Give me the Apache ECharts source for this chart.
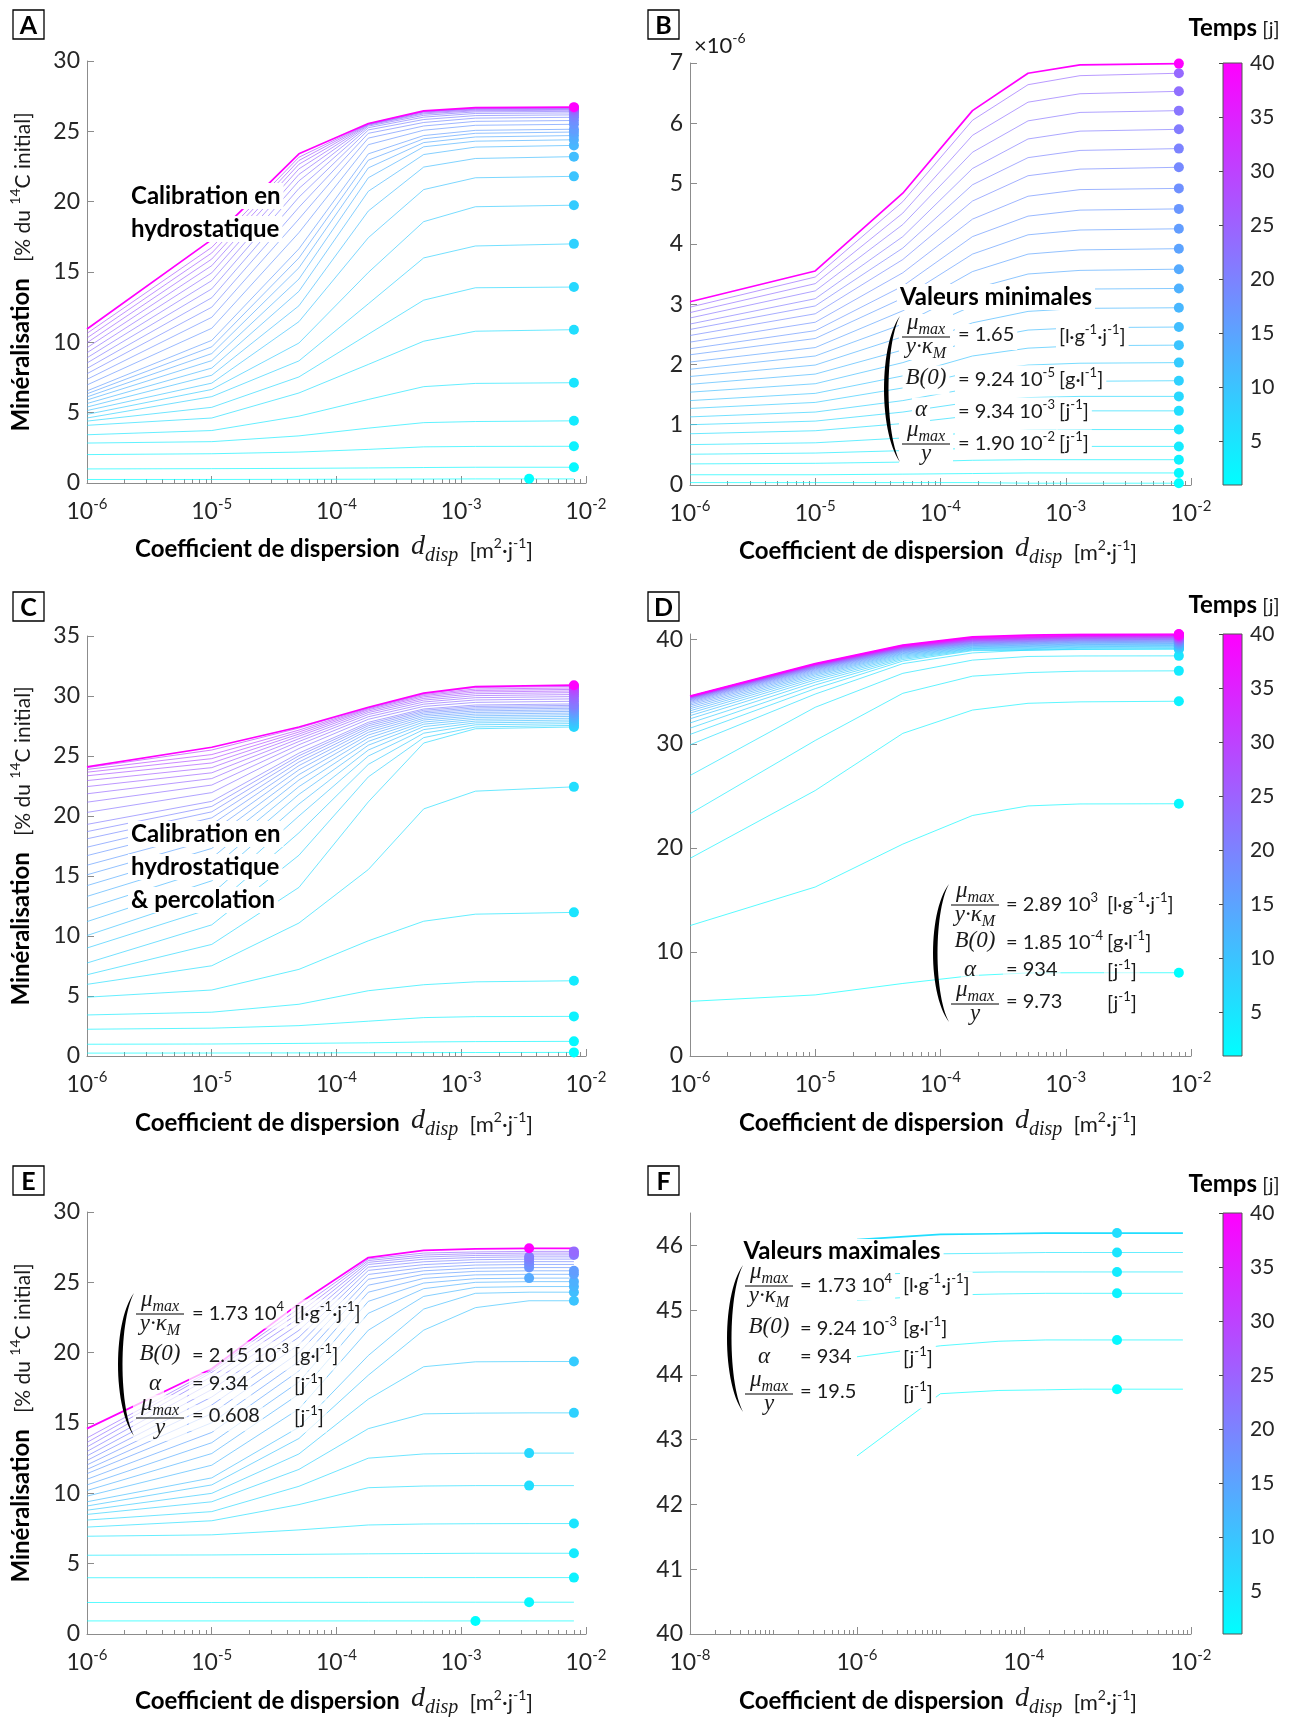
<!DOCTYPE html>
<html><head><meta charset="utf-8">
<script src="https://cdn.jsdelivr.net/npm/echarts@6/dist/echarts.min.js"></script>
<style>html,body{margin:0;padding:0;background:#fff}#c{width:1291px;height:1717px}</style>
</head><body><div id="c"></div>
<script>
// ---------------- DATA ----------------
const dispX  = [1e-6, 1e-5, 5e-5, 1.8e-4, 5e-4, 1.3e-3, 8e-3];
const dispX8 = [1e-6, 1e-5, 5e-5, 1.8e-4, 5e-4, 1.3e-3, 3.5e-3, 8e-3];
const dispTicks  = [1e-6, 1e-5, 1e-4, 1e-3, 1e-2];
const dispTicksF = [1e-8, 1e-6, 1e-4, 1e-2];
const yTicksA = [0, 5, 10, 15, 20, 25, 30];
const yTicksB = [0, 1, 2, 3, 4, 5, 6, 7];
const yTicksC = [0, 5, 10, 15, 20, 25, 30, 35];
const yTicksD = [0, 10, 20, 30, 40];
const yTicksE = [0, 5, 10, 15, 20, 25, 30];
const yTicksF = [40, 41, 42, 43, 44, 45, 46];
const timeRange = [1, 40];
const timeTicks = [5, 10, 15, 20, 25, 30, 35, 40];
const timesA = [1,2,3,4,5,6,7,8,9,10,11,12,13,14,15,16,17,18,19,20,21,22,23,24,25,26,27,40];
const timesB = [1,2,3,4,5,6,7,8,9,10,11,12,13,14,15,16,17,18,19,20,21,22,23,24,40];
const timesC = [1,2,3,4,5,6,7,8,9,10,11,12,13,14,15,16,17,18,19,20,21,22,23,24,25,26,27,28,29,30,40];
const timesD = [1,2,3,4,5,6,7,8,9,10,11,12,13,14,15,16,17,18,19,20,21,22,23,24,25,26,27,28,29,30,31,32,33,34,35,36,37,38,39,40];
const timesE = [1,2,3,4,5,6,7,8,9,10,11,12,13,14,15,16,17,18,19,20,21,22,23,24,40];
const timesF = [1,2,3,4,5,6];

const mineralA = [
[0.25,0.25,0.26,0.27,0.28,0.29,0.29],
[1.0,1.02,1.04,1.07,1.1,1.12,1.12],
[2.02,2.08,2.2,2.39,2.57,2.6,2.61],
[2.84,2.94,3.35,3.9,4.29,4.37,4.42],
[3.43,3.73,4.75,5.94,6.85,7.08,7.13],
[4.1,4.62,6.4,8.43,10.08,10.79,10.9],
[4.4,5.38,7.54,10.58,13.0,13.88,13.93],
[4.62,6.14,8.68,12.74,16.0,16.85,17.0],
[4.88,6.65,9.95,14.97,18.58,19.64,19.75],
[5.15,7.1,11.47,17.44,20.86,21.7,21.8],
[5.4,7.66,12.6,19.34,22.46,23.07,23.2],
[5.65,8.17,13.63,20.74,23.35,23.88,24.0],
[5.9,8.7,14.5,21.7,23.9,24.3,24.4],
[6.12,9.2,15.3,22.4,24.2,24.6,24.7],
[6.34,9.68,16.0,22.95,24.47,24.86,24.95],
[6.55,10.14,16.65,23.4,24.7,25.07,25.15],
[6.97,11.0,17.8,24.05,25.08,25.43,25.5],
[7.37,11.78,18.77,24.52,25.38,25.71,25.77],
[7.77,12.5,19.6,24.86,25.63,25.94,26.0],
[8.15,13.17,20.32,25.1,25.84,26.12,26.17],
[8.53,13.8,20.94,25.26,26.01,26.27,26.31],
[8.9,14.39,21.48,25.37,26.14,26.38,26.42],
[9.26,14.94,21.94,25.44,26.24,26.46,26.5],
[9.62,15.45,22.33,25.48,26.31,26.52,26.56],
[9.97,15.92,22.66,25.51,26.37,26.57,26.61],
[10.31,16.35,22.93,25.53,26.41,26.61,26.65],
[10.64,16.75,23.16,25.54,26.43,26.64,26.67],
[10.95,17.3,23.4,25.56,26.45,26.68,26.72]
];
const dotA1 = [3.5e-3, 0.3];

const mineralB = [
[0.04,0.04,0.04,0.04,0.03,0.03,0.03],
[0.17,0.17,0.18,0.19,0.2,0.2,0.2],
[0.35,0.36,0.38,0.41,0.42,0.42,0.42],
[0.51,0.53,0.57,0.61,0.63,0.64,0.64],
[0.67,0.7,0.78,0.87,0.91,0.92,0.92],
[0.85,0.9,1.02,1.15,1.21,1.23,1.23],
[1.0,1.06,1.21,1.38,1.45,1.47,1.47],
[1.13,1.21,1.4,1.61,1.7,1.72,1.73],
[1.27,1.37,1.61,1.88,1.99,2.02,2.03],
[1.4,1.52,1.81,2.14,2.27,2.31,2.32],
[1.54,1.68,2.03,2.4,2.57,2.61,2.62],
[1.67,1.84,2.24,2.69,2.88,2.93,2.94],
[1.8,1.99,2.46,2.97,3.19,3.25,3.26],
[1.92,2.14,2.67,3.25,3.5,3.56,3.58],
[2.04,2.28,2.89,3.54,3.83,3.9,3.92],
[2.16,2.43,3.1,3.83,4.15,4.23,4.25],
[2.26,2.56,3.3,4.12,4.46,4.56,4.58],
[2.37,2.7,3.52,4.41,4.79,4.9,4.92],
[2.48,2.84,3.74,4.71,5.13,5.24,5.27],
[2.58,2.97,3.93,4.98,5.43,5.55,5.58],
[2.67,3.09,4.12,5.25,5.74,5.87,5.9],
[2.77,3.22,4.32,5.52,6.04,6.18,6.21],
[2.86,3.34,4.51,5.8,6.35,6.49,6.53],
[2.95,3.45,4.7,6.05,6.64,6.79,6.83],
[3.04,3.55,4.84,6.21,6.83,6.97,6.99]
];

const mineralC = [
[0.24,0.25,0.26,0.27,0.28,0.29,0.3],
[0.98,1.0,1.05,1.1,1.17,1.2,1.22],
[2.23,2.32,2.53,2.9,3.2,3.28,3.3],
[3.42,3.65,4.31,5.44,5.94,6.18,6.27],
[4.9,5.5,7.22,9.6,11.23,11.82,11.97],
[5.97,7.52,11.08,15.54,20.59,22.07,22.43],
[6.77,9.3,14.05,21.18,26.08,27.27,27.42],
[7.75,10.93,16.73,23.26,26.53,27.42,27.55],
[9.0,12.3,18.6,24.3,26.9,27.6,27.7],
[10.04,13.5,20.0,25.0,27.2,27.76,27.85],
[11.2,14.6,21.0,25.5,27.45,27.91,28.0],
[12.3,15.6,21.8,25.9,27.65,28.06,28.15],
[13.3,16.5,22.45,26.22,27.83,28.21,28.3],
[14.2,17.3,23.0,26.5,28.0,28.35,28.44],
[15.1,18.05,23.45,26.75,28.15,28.49,28.58],
[15.9,18.7,23.85,26.97,28.3,28.63,28.72],
[16.7,19.3,24.2,27.17,28.44,28.76,28.85],
[17.4,19.85,24.5,27.35,28.57,28.89,28.98],
[18.1,20.35,24.78,27.52,28.69,29.01,29.1],
[18.7,20.8,25.02,27.67,28.81,29.13,29.22],
[19.3,21.22,25.24,27.81,28.92,29.25,29.34],
[20.3,21.95,25.62,28.06,29.13,29.47,29.56],
[21.15,22.58,25.94,28.27,29.32,29.67,29.76],
[21.85,23.12,26.21,28.46,29.5,29.86,29.95],
[22.45,23.6,26.44,28.62,29.66,30.03,30.12],
[22.95,24.03,26.65,28.75,29.8,30.19,30.28],
[23.35,24.42,26.83,28.86,29.93,30.33,30.42],
[23.65,24.78,27.0,28.94,30.04,30.46,30.55],
[23.88,25.12,27.16,29.0,30.13,30.58,30.67],
[24.03,25.5,27.33,29.04,30.21,30.71,30.8],
[24.09,25.73,27.42,29.06,30.24,30.78,30.9]
];

const mineralD = [
[5.25,5.87,6.97,7.73,7.98,8.0,8.0],
[12.53,16.24,20.36,23.11,24.03,24.22,24.24],
[18.99,25.51,31.0,33.24,33.89,34.03,34.09],
[23.28,30.32,34.85,36.5,36.84,36.98,37.01],
[26.95,33.51,36.77,38.04,38.39,38.44,38.45],
[29.9,34.78,37.7,38.73,39.0,39.06,39.08],
[30.9,35.3,37.95,38.95,38.98,39.1,39.15],
[31.5,35.65,38.1,39.02,39.06,39.18,39.23],
[32.0,35.92,38.22,39.09,39.14,39.26,39.31],
[32.4,36.14,38.33,39.15,39.21,39.33,39.38],
[32.7,36.32,38.43,39.21,39.28,39.4,39.45],
[32.95,36.48,38.52,39.27,39.35,39.47,39.52],
[33.17,36.62,38.6,39.33,39.41,39.53,39.58],
[33.37,36.74,38.67,39.39,39.47,39.59,39.64],
[33.55,36.85,38.74,39.44,39.53,39.65,39.7],
[33.71,36.95,38.8,39.49,39.59,39.71,39.76],
[33.85,37.04,38.86,39.54,39.64,39.76,39.81],
[33.97,37.12,38.91,39.59,39.69,39.81,39.86],
[34.07,37.19,38.96,39.63,39.74,39.86,39.91],
[34.15,37.25,39.0,39.67,39.79,39.91,39.96],
[34.22,37.3,39.04,39.71,39.83,39.95,40.0],
[34.28,37.35,39.08,39.75,39.87,39.99,40.04],
[34.33,37.39,39.11,39.79,39.91,40.03,40.08],
[34.37,37.43,39.14,39.83,39.95,40.07,40.12],
[34.4,37.46,39.17,39.86,39.99,40.11,40.16],
[34.43,37.49,39.2,39.89,40.02,40.14,40.19],
[34.45,37.52,39.22,39.92,40.05,40.17,40.22],
[34.47,37.54,39.24,39.95,40.08,40.2,40.25],
[34.49,37.56,39.26,39.98,40.11,40.23,40.28],
[34.5,37.58,39.28,40.01,40.14,40.26,40.31],
[34.51,37.6,39.3,40.04,40.17,40.29,40.34],
[34.52,37.61,39.32,40.06,40.19,40.31,40.36],
[34.53,37.62,39.34,40.08,40.21,40.33,40.38],
[34.54,37.63,39.36,40.1,40.23,40.35,40.4],
[34.55,37.64,39.38,40.13,40.26,40.37,40.42],
[34.55,37.65,39.4,40.16,40.29,40.39,40.44],
[34.56,37.66,39.42,40.19,40.32,40.41,40.46],
[34.56,37.67,39.44,40.21,40.35,40.43,40.48],
[34.57,37.68,39.46,40.24,40.4,40.47,40.51],
[34.58,37.7,39.48,40.27,40.45,40.52,40.55]
];

const mineralE = [
[0.93,0.93,0.93,0.93,0.93,0.93,0.93,0.93],
[2.24,2.24,2.25,2.25,2.26,2.26,2.26,2.26],
[4.0,4.0,4.0,4.01,4.01,4.01,4.01,4.01],
[5.6,5.62,5.66,5.7,5.72,5.74,5.74,5.74],
[6.95,7.05,7.4,7.75,7.82,7.84,7.85,7.85],
[7.6,8.05,9.2,10.4,10.52,10.55,10.55,10.55],
[8.1,8.7,10.5,12.5,12.8,12.85,12.86,12.86],
[8.5,9.4,11.7,14.6,15.65,15.7,15.72,15.72],
[8.8,10.0,12.8,16.7,19.0,19.35,19.37,19.37],
[9.1,10.6,13.9,18.4,21.6,23.2,23.69,23.69],
[9.4,11.1,14.7,19.8,23.1,24.22,24.3,24.3],
[9.8,12.0,16.0,21.6,24.0,24.64,24.7,24.7],
[10.2,12.83,17.05,22.8,24.55,25.0,25.05,25.05],
[10.6,13.6,17.92,23.65,24.95,25.26,25.3,25.3],
[11.0,14.33,18.7,24.3,25.28,25.53,25.57,25.57],
[11.4,15.02,19.38,24.8,25.57,25.78,25.82,25.82],
[11.7,15.67,20.0,25.22,25.82,26.01,26.05,26.05],
[12.02,16.28,20.57,25.56,26.05,26.23,26.27,26.27],
[12.34,16.85,21.1,25.85,26.26,26.43,26.47,26.47],
[12.66,17.38,21.59,26.08,26.46,26.61,26.65,26.65],
[12.98,17.87,22.04,26.27,26.64,26.77,26.81,26.81],
[13.3,18.3,22.45,26.42,26.8,26.91,26.95,26.95],
[13.62,18.6,22.82,26.55,26.94,27.04,27.08,27.08],
[13.94,18.74,23.15,26.66,27.08,27.16,27.2,27.2],
[14.6,18.86,23.49,26.76,27.27,27.38,27.42,27.42]
];
const dotIdxE = [5,6,7,7,7,6,6,7,7,7, 7,7,7,6,7,7,6,6,6,6,6,7,7,7,6];

const mineralF = [
[42.75,43.71,43.76,43.77,43.78,43.78,43.78],
[44.28,44.45,44.52,44.54,44.54,44.54,44.54],
[45.15,45.23,45.25,45.26,45.26,45.26,45.26],
[45.55,45.58,45.59,45.59,45.59,45.59,45.59],
[45.84,45.87,45.88,45.89,45.89,45.89,45.89],
[46.09,46.17,46.18,46.19,46.19,46.19,46.19]
];

// ---------------- STYLE / LAYOUT ----------------
const FONT = 'Lato, "Open Sans", sans-serif';
const SERIF = '"Liberation Serif", "DejaVu Serif", serif';
const INK = '#1a1a1a';
const AX = '#8c8c8c';
const LBL = '#262626';

function cool(t) {
  const f = Math.max(0, Math.min(1, (t - timeRange[0]) / (timeRange[1] - timeRange[0])));
  return 'rgb(' + Math.round(255 * f) + ',' + Math.round(255 * (1 - f)) + ',255)';
}
function endDots(X, rows, times, idxFn) {
  return rows.map((r, i) => { const j = idxFn(i); return [X[j], r[j], times[i]]; });
}
const dotsA = endDots(dispX, mineralA, timesA, () => 6);
dotsA[0] = [dotA1[0], dotA1[1], timesA[0]];

const panels = [
  {g:[87, 61, 499, 422], xr:[1e-6,1e-2], xt:dispTicks, yr:[0,30], yt:yTicksA, X:dispX, rows:mineralA, times:timesA, dots:dotsA},
  {g:[690, 63, 501, 422], xr:[1e-6,1e-2], xt:dispTicks, yr:[0,7], yt:yTicksB, X:dispX, rows:mineralB, times:timesB, dots:endDots(dispX, mineralB, timesB, () => 6)},
  {g:[87, 636, 499, 420], xr:[1e-6,1e-2], xt:dispTicks, yr:[0,35], yt:yTicksC, X:dispX, rows:mineralC, times:timesC, dots:endDots(dispX, mineralC, timesC, () => 6)},
  {g:[690, 634, 501, 422], xr:[1e-6,1e-2], xt:dispTicks, yr:[0,40.55], yt:yTicksD, X:dispX, rows:mineralD, times:timesD, dots:endDots(dispX, mineralD, timesD, () => 6)},
  {g:[87, 1212, 499, 422], xr:[1e-6,1e-2], xt:dispTicks, yr:[0,30], yt:yTicksE, X:dispX8, rows:mineralE, times:timesE, dots:endDots(dispX8, mineralE, timesE, i => dotIdxE[i])},
  {g:[690, 1213, 501, 421], xr:[1e-8,1e-2], xt:dispTicksF, yr:[40,46.5], yt:yTicksF, X:dispX, rows:mineralF, times:timesF, dots:endDots(dispX, mineralF, timesF, () => 5)}
];
const colorbars = [[1223, 63, 19, 422], [1223, 634, 19, 422], [1223, 1213, 19, 421]];

function minorTicks(xr, majors) {
  const out = [];
  const e0 = Math.round(Math.log10(xr[0])), e1 = Math.round(Math.log10(xr[1]));
  for (let e = e0; e < e1; e++) {
    const base = Math.pow(10, e);
    if (majors.indexOf(base) < 0) out.push(base);
    for (let m = 2; m <= 9; m++) out.push(m * base);
  }
  return out;
}

const RA = {
  b: {fontFamily: FONT, fontSize: 23, color: LBL, verticalAlign: 'bottom', padding: [0,0,4,0]},
  e: {fontFamily: FONT, fontSize: 15, color: LBL, verticalAlign: 'bottom', padding: [0,0,15,0]}
};

const grids = [], xAxes = [], yAxes = [], series = [];
panels.forEach((p) => {
  grids.push({left: p.g[0], top: p.g[1], width: p.g[2], height: p.g[3], containLabel: false});
  const gi = grids.length - 1;
  xAxes.push({
    type: 'log', logBase: 10, gridIndex: gi, position: 'bottom', min: p.xr[0], max: p.xr[1],
    axisLine: {onZero: false, lineStyle: {color: AX, width: 1}},
    axisTick: {inside: true, length: 7, customValues: p.xt, lineStyle: {color: AX}},
    axisLabel: {customValues: p.xt, margin: 14, rich: RA,
      formatter: v => '{b|10}{e|' + Math.round(Math.log10(v)) + '}'},
    splitLine: {show: false}
  });
  const xi = xAxes.length - 1;
  xAxes.push({
    type: 'log', logBase: 10, gridIndex: gi, position: 'bottom', min: p.xr[0], max: p.xr[1],
    axisLine: {show: false, onZero: false}, axisLabel: {show: false},
    axisTick: {inside: true, length: 4, customValues: minorTicks(p.xr, p.xt), lineStyle: {color: AX}},
    splitLine: {show: false}
  });
  yAxes.push({
    type: 'value', gridIndex: gi, position: 'left', min: p.yr[0], max: p.yr[1],
    axisLine: {show: true, onZero: false, lineStyle: {color: AX, width: 1}},
    axisTick: {show: true, inside: true, length: 7, customValues: p.yt, lineStyle: {color: AX}},
    axisLabel: {customValues: p.yt, fontSize: 23, color: LBL, fontFamily: FONT, margin: 7},
    splitLine: {show: false}
  });
  const yi = yAxes.length - 1;
  p.rows.forEach((r, k) => {
    const top = k === p.rows.length - 1;
    series.push({
      type: 'line', xAxisIndex: xi, yAxisIndex: yi, symbol: 'none', silent: true, z: 2,
      data: p.X.map((x, j) => [x, r[j]]),
      lineStyle: {width: top ? 1.7 : 0.9, color: cool(p.times[k]), opacity: top ? 1 : 0.75}
    });
  });
  series.push({
    type: 'scatter', xAxisIndex: xi, yAxisIndex: yi, symbolSize: 10, silent: true, z: 5,
    data: p.dots.map(d => ({value: [d[0], d[1]], itemStyle: {color: cool(d[2]), opacity: 1}}))
  });
});

colorbars.forEach((c) => {
  grids.push({left: c[0], top: c[1], width: c[2], height: c[3], containLabel: false});
  const gi = grids.length - 1;
  xAxes.push({type: 'value', gridIndex: gi, min: 0, max: 1, show: false});
  const xi = xAxes.length - 1;
  yAxes.push({
    type: 'value', gridIndex: gi, position: 'right', min: timeRange[0], max: timeRange[1],
    axisLine: {show: false},
    axisTick: {show: true, inside: true, length: 4, customValues: timeTicks, lineStyle: {color: '#444'}},
    axisLabel: {customValues: timeTicks, fontSize: 21, color: LBL, fontFamily: FONT, margin: 8},
    splitLine: {show: false}
  });
  const yi = yAxes.length - 1;
  series.push({
    type: 'custom', xAxisIndex: xi, yAxisIndex: yi, silent: true, z: 1,
    data: [[0, timeRange[0], 1, timeRange[1]]],
    renderItem: (params, api) => {
      const a = api.coord([api.value(0), api.value(1)]);
      const b = api.coord([api.value(2), api.value(3)]);
      return {type: 'rect', shape: {x: a[0], y: b[1], width: b[0] - a[0], height: a[1] - b[1]},
        style: {fill: new echarts.graphic.LinearGradient(0, 1, 0, 0, [{offset: 0, color: cool(timeRange[0])}, {offset: 1, color: cool(timeRange[1])}]),
                stroke: '#555', lineWidth: 1}};
    }
  });
});

// ---------------- TEXT / ANNOTATIONS ----------------
const R = {
  t:  {fontFamily: FONT, fontWeight: 'bold', fontSize: 24, fill: '#000', verticalAlign: 'bottom'},
  tb: {fontFamily: FONT, fontWeight: 'bold', fontSize: 24, fill: '#000', verticalAlign: 'bottom', padding: [0,0,4,0]},
  L:  {fontFamily: FONT, fontWeight: 'bold', fontSize: 25, fill: '#000'},
  n:  {fontFamily: FONT, fontSize: 20, fill: INK, verticalAlign: 'bottom', padding: [0,0,4,0]},
  sp: {fontFamily: FONT, fontSize: 13, fill: INK, verticalAlign: 'bottom', padding: [0,0,14,0]},
  it: {fontFamily: SERIF, fontStyle: 'italic', fontSize: 23, fill: INK, verticalAlign: 'bottom', padding: [0,0,4,0]},
  sb: {fontFamily: SERIF, fontStyle: 'italic', fontSize: 16, fill: INK, verticalAlign: 'bottom', padding: [0,0,0,0]},
  dd: {fontFamily: SERIF, fontStyle: 'italic', fontSize: 28, fill: INK, verticalAlign: 'bottom', padding: [0,0,5,0]},
  ds: {fontFamily: SERIF, fontStyle: 'italic', fontSize: 20, fill: INK, verticalAlign: 'bottom', padding: [0,0,0,0]},
  xn: {fontFamily: FONT, fontSize: 22, fill: INK, verticalAlign: 'bottom', padding: [0,0,4,0]},
  xs: {fontFamily: FONT, fontSize: 14, fill: INK, verticalAlign: 'bottom', padding: [0,0,15,0]},
  yb: {fontFamily: FONT, fontWeight: 'bold', fontSize: 24, fill: '#000', verticalAlign: 'bottom', padding: [0,0,4,0]},
  yn: {fontFamily: FONT, fontSize: 21, fill: INK, verticalAlign: 'bottom', padding: [0,0,4,0]},
  ys: {fontFamily: FONT, fontSize: 14, fill: INK, verticalAlign: 'bottom', padding: [0,0,15,0]},
  tn: {fontFamily: FONT, fontSize: 20, fill: INK, verticalAlign: 'bottom', padding: [0,0,4,0]}
};
const G = [];
function T(x, y, text, align, va, bg, extra, pad) {
  const st = {text: text, rich: R, align: align || 'left', verticalAlign: va || 'middle'};
  if (bg) { st.backgroundColor = bg; st.padding = pad || [1, 3, 1, 3]; }
  G.push(Object.assign({type: 'text', x: x, y: y, z: 101, silent: true, style: st}, extra || {}));
}
function rect(x, y, w, h, fill, stroke) {
  G.push({type: 'rect', z: 99, silent: true, shape: {x: x, y: y, width: w, height: h},
    style: {fill: fill || 'none', stroke: stroke || null, lineWidth: 1.3}});
}
function brace(x, y0, y1) {
  const w = 16, h = y1 - y0, th = 4.5, n = 30, pts = [];
  const P = (p0, c1, c2, p3, t) => {
    const u = 1 - t;
    return [u*u*u*p0[0] + 3*u*u*t*c1[0] + 3*u*t*t*c2[0] + t*t*t*p3[0],
            u*u*u*p0[1] + 3*u*u*t*c1[1] + 3*u*t*t*c2[1] + t*t*t*p3[1]];
  };
  const p0 = [x + w, y0], p3 = [x + w, y1];
  const co = x - w / 3, ci = x + th / 0.75 - w / 3;
  for (let i = 0; i <= n; i++) pts.push(P(p0, [co, y0 + h * 0.2], [co, y1 - h * 0.2], p3, i / n));
  for (let i = n; i >= 0; i--) pts.push(P(p0, [ci, y0 + h * 0.2], [ci, y1 - h * 0.2], p3, i / n));
  G.push({type: 'polygon', z: 102, silent: true, shape: {points: pts}, style: {fill: '#000'}});
}
function frac(cx, yb, num, den, hw, bg) {
  if (bg) G.push({type: 'rect', z: 99, silent: true, shape: {x: cx - hw - 3, y: yb - 23, width: 2 * hw + 6, height: 46}, style: {fill: bg}});
  T(cx, yb + 1, num, 'center', 'bottom');
  G.push({type: 'line', z: 101, silent: true, shape: {x1: cx - hw, y1: yb, x2: cx + hw, y2: yb}, style: {stroke: '#000', lineWidth: 1}});
  T(cx, yb - 2, den, 'center', 'top');
}
const MU = '{it|μ}{sb|max}';
const YK = '{it|y·κ}{sb|M}';
const UNIT1 = '{n|[l·g}{sp|-1}{n|·j}{sp|-1}{n|]}';
const UNIT2 = '{n|[g·l}{sp|-1}{n|]}';
const UNIT3 = '{n|[j}{sp|-1}{n|]}';
function eqBlock(b) {
  brace(b.bx, b.rows[0] - 21, b.rows[3] + 18);
  frac(b.xf, b.rows[0], MU, YK, 24, b.bg);
  T(b.xe, b.rows[0], b.v[0], 'left', 'middle', b.bg);
  T(b.xu, b.rows[0], UNIT1, 'left', 'middle', b.bg);
  T(b.xf, b.rows[1], '{it|B(0)}', 'center', 'middle', b.bg);
  T(b.xe, b.rows[1], b.v[1], 'left', 'middle', b.bg);
  T(b.xu, b.rows[1], UNIT2, 'left', 'middle', b.bg);
  T(b.xf - 5, b.rows[2], '{it|α}', 'center', 'middle', b.bg);
  T(b.xe, b.rows[2], b.v[2], 'left', 'middle', b.bg);
  T(b.xu, b.rows[2], UNIT3, 'left', 'middle', b.bg);
  frac(b.xf, b.rows[3], MU, '{it|y}', 24, b.bg);
  T(b.xe, b.rows[3], b.v[3], 'left', 'middle', b.bg);
  T(b.xu, b.rows[3], UNIT3, 'left', 'middle', b.bg);
}

// panel letters
[['A', 13, 10], ['B', 648, 10], ['C', 13, 592], ['D', 648, 592], ['E', 13, 1166], ['F', 648, 1166]].forEach(l => {
  rect(l[1], l[2], 31, 29, '#fff', '#000');
  T(l[1] + 15.5, l[2] + 15.5, '{L|' + l[0] + '}', 'center', 'middle');
});
// y titles
const YT = '{yb|Minéralisation}{yn|   [% du }{ys|14}{yn|C initial]}';
[272, 846, 1423].forEach(y => T(23, y, YT, 'center', 'middle', null, {rotation: Math.PI / 2}));
// x titles
const XT = '{tb|Coefficient de dispersion}{xn|  }{dd|d}{ds|disp}{xn|  [m}{xs|2}{xn|·j}{xs|-1}{xn|]}';
[[334, 549], [938, 551], [334, 1123], [938, 1123], [334, 1701], [938, 1701]].forEach(p => T(p[0], p[1], XT, 'center', 'middle'));
// colorbar titles
[30, 607, 1186].forEach(y => T(1234, y, '{tb|Temps}{tn| [j]}', 'center', 'middle'));
// exponent
T(694, 46, '{xn|×10}{xs|-6}', 'left', 'middle');

// annotations
const BGW = '#ffffff';
T(128, 196, '{t|Calibration en}', 'left', 'middle', BGW);
T(128, 229, '{t|hydrostatique}', 'left', 'middle', BGW);
T(128, 834, '{t|Calibration en}', 'left', 'middle', BGW);
T(128, 867, '{t|hydrostatique}', 'left', 'middle', BGW);
T(128, 900, '{t|& percolation}', 'left', 'middle', BGW);
T(996, 297, '{t|Valeurs minimales}', 'center', 'middle', BGW);
T(842, 1251, '{t|Valeurs maximales}', 'center', 'middle', BGW, null, [0, 3, 0, 3]);

eqBlock({bx: 884, xf: 926, xe: 955, xu: 1056, rows: [337, 380, 412, 444], bg: BGW,
  v: ['{n|= 1.65}', '{n|= 9.24 10}{sp|-5}', '{n|= 9.34 10}{sp|-3}', '{n|= 1.90 10}{sp|-2}']});
eqBlock({bx: 933, xf: 975, xe: 1003, xu: 1104, rows: [905, 943, 972, 1004], bg: 'rgba(255,255,255,0.6)',
  v: ['{n|= 2.89 10}{sp|3}', '{n|= 1.85 10}{sp|-4}', '{n|= 934}', '{n|= 9.73}']});
eqBlock({bx: 118, xf: 160, xe: 189, xu: 291, rows: [1314, 1356, 1386, 1418], bg: 'rgba(255,255,255,0.7)',
  v: ['{n|= 1.73 10}{sp|4}', '{n|= 2.15 10}{sp|-3}', '{n|= 9.34}', '{n|= 0.608}']});
eqBlock({bx: 727, xf: 769, xe: 797, xu: 900, rows: [1286, 1329, 1359, 1394], bg: BGW,
  v: ['{n|= 1.73 10}{sp|4}', '{n|= 9.24 10}{sp|-3}', '{n|= 934}', '{n|= 19.5}']});

const chart = echarts.init(document.getElementById('c'), null, {renderer: 'canvas', width: 1291, height: 1717});
chart.setOption({
  animation: false,
  backgroundColor: '#ffffff',
  textStyle: {fontFamily: FONT},
  grid: grids, xAxis: xAxes, yAxis: yAxes, series: series,
  graphic: {elements: G}
});
</script></body></html>
